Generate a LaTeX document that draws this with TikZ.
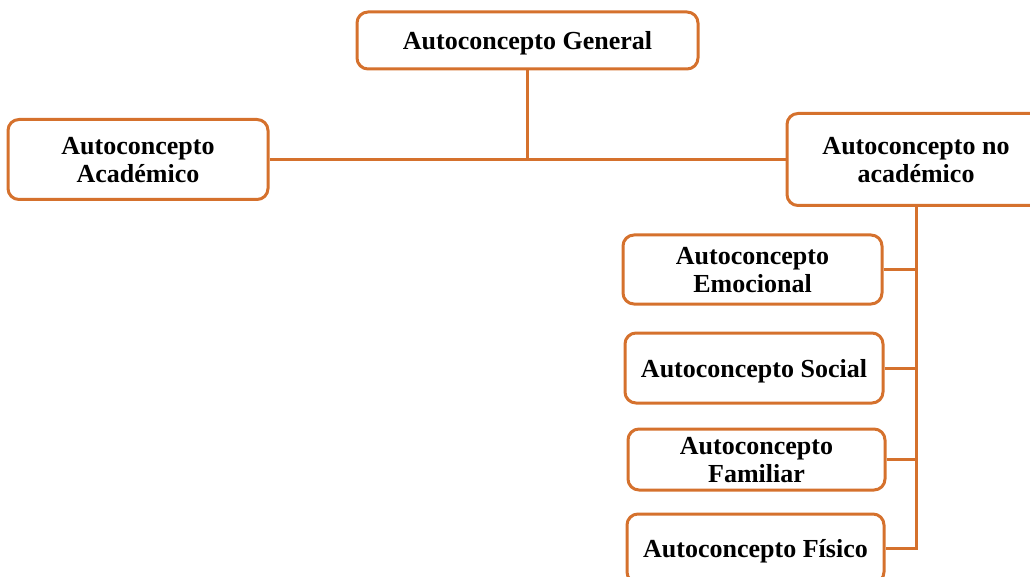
\documentclass[tikz,border=0pt]{standalone}
\usepackage{fontspec}
\setmainfont{Liberation Serif}
\definecolor{branch}{RGB}{213,113,45}
\begin{document}
\begin{tikzpicture}[x=1pt,y=-1pt,
  box/.style={draw=branch, line width=3pt, rounded corners=11pt, fill=white,
    align=center, inner sep=0pt, text depth=0pt,
    font=\fontsize{26}{28}\selectfont\bfseries},
  link/.style={draw=branch, line width=3pt}]
\useasboundingbox (0,0) rectangle (1030,577);
\begin{scope}
\clip (0,0) rectangle (1030,577);
% top and first level
\node[box, minimum width=341pt, minimum height=57pt] (gen) at (527.5,40.5) {Autoconcepto General};
\node[box, minimum width=260pt, minimum height=80pt] (acad) at (138,159.5) {Autoconcepto\\Académico};
\node[box, minimum width=258pt, minimum height=92pt] (noac) at (916,159.5) {Autoconcepto no\\académico};
% second level under the non-academic branch
\node[box, minimum width=259pt, minimum height=69pt] (emo) at (752.5,269.5) {Autoconcepto\\Emocional};
\node[box, minimum width=258pt, minimum height=70pt] (soc) at (754,368) {Autoconcepto Social};
\node[box, minimum width=257pt, minimum height=61pt] (fam) at (756.5,459.5) {Autoconcepto\\Familiar};
\node[box, minimum width=257pt, minimum height=69pt] (fis) at (755.5,548.5) {Autoconcepto Físico};
% connectors
\coordinate (j) at (gen.south |- acad.east);
\draw[link] (acad.east) -- (noac.west);
\draw[link] (gen.south) -- (j);
\draw[link] (noac.south) -- (noac.south |- fis.east) -- (fis.east);
\draw[link] (emo.east) -- (emo.east -| noac.south);
\draw[link] (soc.east) -- (soc.east -| noac.south);
\draw[link] (fam.east) -- (fam.east -| noac.south);
\end{scope}
\end{tikzpicture}
\end{document}
